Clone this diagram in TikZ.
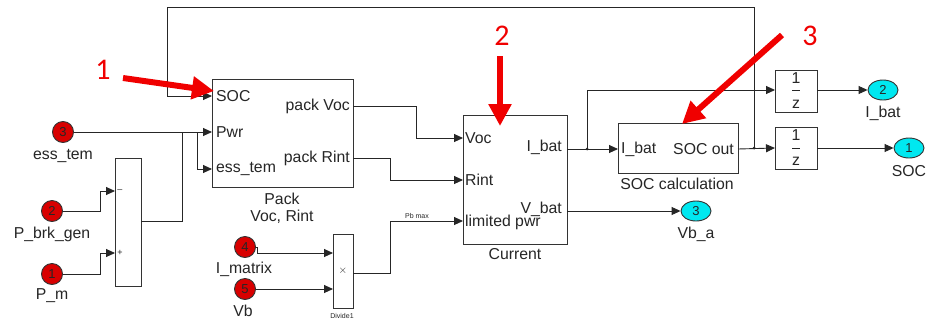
\documentclass[tikz,border=0pt]{standalone}
\usepackage{fontspec}
\setmainfont{Liberation Sans}
\newfontfamily\numfont{Carlito}
\usetikzlibrary{arrows.meta,calc,shapes.geometric}
\definecolor{inred}{HTML}{D80000}
\definecolor{outcyan}{HTML}{00E8F0}
\definecolor{annred}{HTML}{F00000}
\tikzset{
  blk/.style={draw=black!80,line width=0.9pt,anchor=north west,inner sep=0pt,outer sep=0pt},
  sig/.style={draw=black!85,line width=0.9pt,-{Triangle[length=9pt,width=8pt]}},
  wire/.style={draw=black!85,line width=0.9pt},
  txt/.style={font=\fontsize{15.8}{17}\selectfont,inner sep=1pt,text=black!85},
  small/.style={font=\fontsize{7}{8}\selectfont,inner sep=0pt,text=black!85},
  inport/.style={circle,draw=black!80,line width=0.9pt,fill=inred,minimum size=21pt,inner sep=0pt,font=\fontsize{13}{14}\selectfont,text=black!85},
  outport/.style={ellipse,draw=black!80,line width=0.9pt,fill=outcyan,minimum width=30pt,minimum height=20pt,inner sep=0pt,font=\fontsize{13}{14}\selectfont,text=black!85},
  ann/.style={draw=annred,line width=6pt,-{Triangle[length=22pt,width=22pt]}},
  anntxt/.style={font=\numfont\fontsize{30}{32}\selectfont,text=annred,inner sep=0pt},
  dot/.style={circle,fill=black!85,inner sep=0pt,minimum size=3pt}
}
\begin{document}
\begin{tikzpicture}[x=1pt,y=-1pt]
\useasboundingbox (0,0) rectangle (928,327);
\fill[white] (0,0) rectangle (928,327);
% blocks
\node[blk,minimum width=141pt,minimum height=108pt] (pack) at (212,79) {};
\node[blk,minimum width=26pt,minimum height=128pt] (sum) at (115,158) {};
\node[blk,minimum width=20pt,minimum height=74pt] (div) at (333,234) {};
\node[blk,minimum width=104pt,minimum height=129pt] (cur) at (463,115) {};
\node[blk,minimum width=120pt,minimum height=50pt] (socc) at (618,123) {};
\node[blk,minimum width=42pt,minimum height=42pt] (d1) at (775,70) {};
\node[blk,minimum width=42pt,minimum height=42pt] (d2) at (775,127) {};
% ports
\coordinate (pSOC) at (212,96);
\coordinate (pPwr) at (212,132);
\coordinate (pEss) at (212,169);
\coordinate (pVocOut) at (353,106);
\coordinate (pRintOut) at (353,158);
\coordinate (cVoc) at (463,138);
\coordinate (cRint) at (463,180);
\coordinate (cLim) at (463,221);
\coordinate (cIbat) at (567,149);
\coordinate (cVbat) at (567,211);
\coordinate (sIn) at (618,149);
\coordinate (sOut) at (738,149);
\coordinate (d1In) at (775,90);
\coordinate (d1Out) at (817,90);
\coordinate (d2In) at (775,148);
\coordinate (d2Out) at (817,148);
\coordinate (sumM) at (115,191);
\coordinate (sumP) at (115,253);
\coordinate (sumOut) at (141,221);
\coordinate (divA) at (333,253);
\coordinate (divB) at (333,289);
\coordinate (divOut) at (353,273);
\coordinate (j1) at (754,148);
\coordinate (j2) at (587,149);
\coordinate (jA) at (182,132);
\coordinate (jB) at (197,132);
\coordinate (fbTR) at (754,7);
\coordinate (fbTL) at (167,7);
% in/out ports
\node[inport] (in3) at (63,132) {3};
\node[inport] (in2) at (52,211) {2};
\node[inport] (in1) at (52,274) {1};
\node[inport] (in4) at (245,247) {4};
\node[inport] (in5) at (245,289) {5};
\node[outport] (out2) at (883,90) {2};
\node[outport] (out1) at (909,148) {1};
\node[outport] (out3) at (696,211) {3};
% port labels
\node[txt] at (63,156) {ess\_tem};
\node[txt] at (52,234) {P\_brk\_gen};
\node[txt] at (52,296) {P\_m};
\node[txt] at (244,269) {I\_matrix};
\node[txt] at (243,311) {Vb};
\node[txt] at (883,113) {I\_bat};
\node[txt] at (909,171) {SOC};
\node[txt] at (696,234) {Vb\_a};
% block texts
\node[txt,anchor=west] at ($(pSOC)+(3,0)$) {SOC};
\node[txt,anchor=west] at ($(pPwr)+(3,0)$) {Pwr};
\node[txt,anchor=west] at ($(pEss)+(3,0)$) {ess\_tem};
\node[txt,anchor=east] at ($(pVocOut)+(-2,0)$) {pack Voc};
\node[txt,anchor=east] at ($(pRintOut)+(-2,0)$) {pack Rint};
\node[txt] at (282,199) {Pack};
\node[txt] at (282,217) {Voc, Rint};
\node[txt,anchor=west] at ($(cVoc)+(1,0)$) {Voc};
\node[txt,anchor=west] at ($(cRint)+(1,0)$) {Rint};
\node[txt,anchor=west] at ($(cLim)+(1,1)$) {limited pwr};
\node[txt,anchor=east] at ($(cIbat)+(-4,-2)$) {I\_bat};
\node[txt,anchor=east] at ($(cVbat)+(-4,-2)$) {V\_bat};
\node[txt] at (515,254) {Current};
\node[txt,anchor=west] at ($(sIn)+(2,0)$) {I\_bat};
\node[txt,anchor=east] at ($(sOut)+(-3,0)$) {SOC out};
\node[txt] at (677,184) {SOC calculation};
\node[txt] at (796,78) {1};
\node[txt] at (796,104) {z};
\draw[wire,line width=0.7pt] (792,90) -- (800,90);
\node[txt] at (796,135) {1};
\node[txt] at (796,161) {z};
\draw[wire,line width=0.7pt] (792,148) -- (800,148);
\node[small,font=\fontsize{9}{9}\selectfont] at (120,191) {--};
\node[small,font=\fontsize{9}{9}\selectfont] at (120,253) {+};
\node[small,font=\fontsize{11}{12}\selectfont] at (343,271) {$\times$};
\node[small] at (342,316) {Divide1};
\node[small] at (417,216) {Pb max};
% connectors
\draw[sig] (j1) -- (fbTR) -- (fbTL) |- (pSOC);
\draw[sig] (in3.east) -- (pPwr);
\draw[wire] (sumOut) -| (jA);
\draw[sig] (jB) |- (pEss);
\draw[sig] (in2.east) -- ++(37,0) |- (sumM);
\draw[sig] (in1.east) -- ++(37,0) |- (sumP);
\draw[sig] (in4.east) -- ++(1,0) |- (divA);
\draw[sig] (in5.east) -- (divB);
\draw[sig] (divOut) -- ++(37,0) |- (cLim);
\draw[sig] (pVocOut) -- ++(63,0) |- (cVoc);
\draw[sig] (pRintOut) -- ++(37,0) |- (cRint);
\draw[sig] (cIbat) -- (sIn);
\draw[sig] (j2) |- (d1In);
\draw[sig] (sOut) -- (d2In);
\draw[sig] (d1Out) -- (out2.west);
\draw[sig] (d2Out) -- (out1.west);
\draw[sig] (cVbat) -- (out3.west);
\node[dot] at (j1) {};
\node[dot] at (j2) {};
% annotations
\node[anntxt] (n1) at (103,70) {1};
\node[anntxt] (n2) at (502,36) {2};
\node[anntxt] (n3) at (810,36) {3};
\coordinate (a1s) at (123,78);
\coordinate (a1e) at (214,91);
\coordinate (a2s) at (500,56);
\coordinate (a2e) at (500,126);
\coordinate (a3s) at (782,35);
\coordinate (a3e) at (682,124);
\draw[ann] (a1s) -- (a1e);
\draw[ann] (a2s) -- (a2e);
\draw[ann] (a3s) -- (a3e);
\end{tikzpicture}
\end{document}
